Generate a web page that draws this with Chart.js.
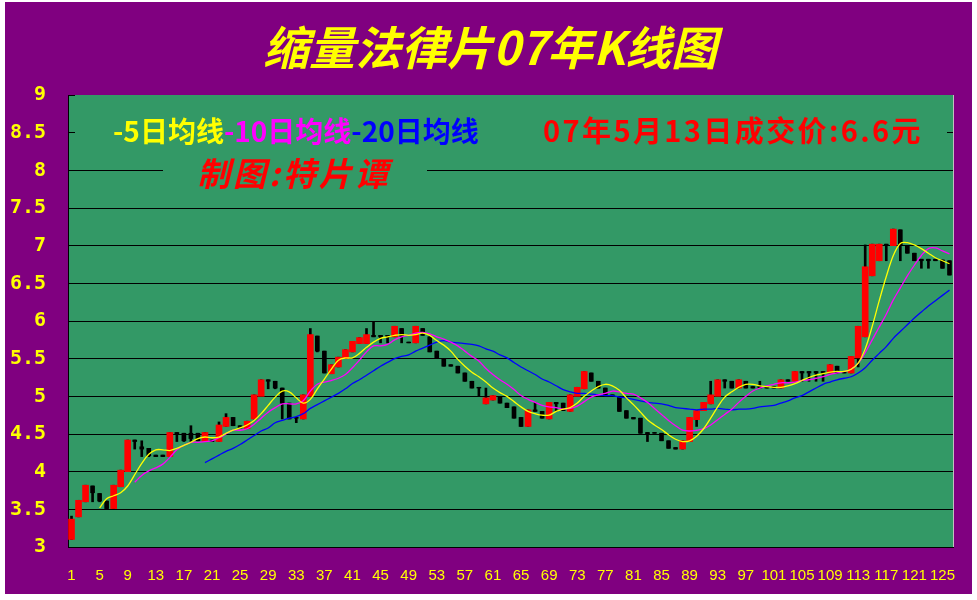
<!DOCTYPE html>
<html>
<head>
<meta charset="utf-8">
<script src="https://cdn.jsdelivr.net/npm/chart.js@4.4.1/dist/chart.umd.min.js"></script>
<style>
  html, body { margin: 0; padding: 0; background: #fff; }
  canvas { display: block; }
</style>
</head>
<body>
<canvas id="kChart" width="977" height="600"></canvas>
<script>
// daily K-line data (126 trading days)
const opens = [
  3.10,3.40,3.60,3.81,3.71,3.61,3.51,3.80,4.00,4.42,
  4.33,4.31,4.22,4.22,4.20,4.52,4.51,4.51,4.51,4.40,
  4.42,4.40,4.60,4.72,4.61,4.57,4.70,5.00,5.22,5.20,
  5.11,4.91,4.72,4.70,5.00,5.80,5.60,5.30,5.39,5.50,
  5.59,5.70,5.70,5.81,5.81,5.81,5.79,5.90,5.72,5.71,
  5.90,5.79,5.60,5.50,5.42,5.40,5.31,5.20,5.12,4.90,
  4.95,5.00,4.91,4.86,4.72,4.60,4.82,4.80,4.70,4.92,
  4.91,4.80,5.00,5.10,5.31,5.20,5.11,5.02,5.00,4.81,
  4.72,4.71,4.52,4.52,4.51,4.41,4.32,4.30,4.40,4.69,
  4.81,4.90,5.00,5.22,5.20,5.11,5.20,5.13,5.13,5.13,
  5.13,5.11,5.22,5.20,5.33,5.33,5.33,5.33,5.31,5.40,
  5.33,5.31,5.51,5.79,6.60,6.80,7.02,7.00,7.21,7.00,
  6.90,6.82,6.82,6.82,6.81,6.80
];
const highs = [
  3.41,3.62,3.82,3.81,3.71,3.61,3.82,4.02,4.42,4.42,
  4.41,4.31,4.22,4.22,4.52,4.52,4.51,4.61,4.51,4.52,
  4.42,4.66,4.77,4.72,4.61,4.67,5.02,5.22,5.22,5.20,
  5.11,4.91,4.72,5.02,5.90,5.80,5.60,5.42,5.52,5.62,
  5.73,5.78,5.90,5.99,5.81,5.81,5.93,5.90,5.72,5.93,
  5.90,5.79,5.60,5.50,5.42,5.40,5.31,5.20,5.12,5.11,
  5.01,5.00,4.91,4.86,4.72,4.82,4.92,4.80,4.92,4.92,
  4.91,5.02,5.12,5.33,5.31,5.20,5.11,5.02,5.00,4.81,
  4.72,4.71,4.52,4.52,4.51,4.41,4.32,4.41,4.72,4.81,
  4.92,5.20,5.22,5.22,5.20,5.22,5.20,5.13,5.20,5.13,
  5.13,5.22,5.22,5.33,5.33,5.33,5.33,5.33,5.42,5.40,
  5.33,5.53,5.93,7.01,7.02,7.02,7.02,7.22,7.21,7.00,
  6.90,6.82,6.82,6.82,6.81,6.80
];
const lows = [
  3.10,3.40,3.60,3.60,3.60,3.51,3.51,3.80,4.00,4.30,
  4.20,4.20,4.20,4.20,4.20,4.40,4.40,4.40,4.41,4.40,
  4.40,4.40,4.60,4.61,4.58,4.57,4.70,5.00,5.10,5.10,
  4.70,4.70,4.65,4.70,5.00,5.59,5.31,5.30,5.39,5.50,
  5.59,5.70,5.70,5.79,5.71,5.71,5.79,5.71,5.71,5.71,
  5.81,5.59,5.50,5.40,5.40,5.31,5.20,5.11,5.00,4.90,
  4.95,4.91,4.85,4.71,4.60,4.60,4.80,4.71,4.70,4.80,
  4.81,4.80,5.00,5.10,5.20,5.11,5.01,5.00,4.80,4.71,
  4.70,4.51,4.40,4.51,4.41,4.31,4.30,4.30,4.40,4.60,
  4.81,4.90,5.00,5.11,5.11,5.11,5.11,5.11,5.11,5.11,
  5.11,5.11,5.20,5.20,5.20,5.20,5.20,5.20,5.31,5.31,
  5.31,5.31,5.39,5.79,6.60,6.80,6.80,7.00,6.80,6.90,
  6.80,6.70,6.70,6.80,6.70,6.61
];
const closes = [
  3.37,3.62,3.82,3.72,3.61,3.51,3.82,4.02,4.42,4.40,
  4.30,4.21,4.20,4.20,4.52,4.50,4.41,4.44,4.41,4.52,
  4.40,4.62,4.72,4.61,4.58,4.67,5.02,5.22,5.20,5.11,
  4.91,4.70,4.71,5.02,5.82,5.60,5.31,5.42,5.52,5.62,
  5.73,5.78,5.82,5.79,5.79,5.79,5.93,5.80,5.71,5.93,
  5.81,5.59,5.50,5.40,5.40,5.31,5.20,5.11,5.11,4.98,
  5.01,4.91,4.85,4.71,4.60,4.82,4.80,4.71,4.92,4.90,
  4.81,5.02,5.12,5.33,5.20,5.11,5.01,5.00,4.80,4.71,
  4.70,4.51,4.50,4.51,4.41,4.31,4.30,4.41,4.72,4.81,
  4.92,5.02,5.22,5.20,5.11,5.22,5.11,5.11,5.11,5.11,
  5.11,5.22,5.20,5.33,5.31,5.31,5.31,5.31,5.42,5.31,
  5.31,5.53,5.93,6.72,7.02,7.02,7.00,7.22,7.00,6.90,
  6.80,6.80,6.80,6.80,6.70,6.61
];

// moving-average lines as drawn (5-day from day 5, 10-day from day 10, 20-day from day 20)
const ma5 = [
  3.52,3.64,3.68,3.72,3.81,3.96,4.11,4.23,4.29,4.29,
  4.28,4.31,4.35,4.39,4.44,4.46,4.45,4.46,4.51,4.55,
  4.58,4.62,4.68,4.77,4.88,4.99,5.07,5.06,4.98,4.91,
  4.96,5.10,5.23,5.36,5.48,5.51,5.51,5.57,5.65,5.72,
  5.77,5.79,5.81,5.82,5.81,5.82,5.84,5.81,5.74,5.68,
  5.60,5.49,5.40,5.32,5.26,5.19,5.11,5.05,5.00,4.93,
  4.86,4.80,4.77,4.75,4.75,4.80,4.83,4.85,4.91,5.00,
  5.07,5.13,5.16,5.14,5.08,4.98,4.89,4.79,4.69,4.62,
  4.56,4.49,4.43,4.40,4.41,4.47,4.57,4.71,4.86,4.99,
  5.06,5.12,5.16,5.16,5.14,5.13,5.12,5.12,5.14,5.17,
  5.21,5.25,5.28,5.30,5.32,5.33,5.33,5.36,5.44,5.63,
  5.93,6.27,6.59,6.87,7.03,7.04,7.01,6.96,6.90,6.84,
  6.80,6.76
];
const ma10 = [
  3.86,3.95,4.01,4.05,4.10,4.19,4.29,4.35,4.39,4.39,
  4.40,4.41,4.45,4.50,4.55,4.55,4.57,4.63,4.71,4.79,
  4.85,4.90,4.90,4.90,4.94,5.07,5.16,5.19,5.21,5.24,
  5.29,5.38,5.48,5.59,5.67,5.67,5.69,5.75,5.79,5.81,
  5.84,5.85,5.83,5.79,5.76,5.72,5.67,5.60,5.53,5.47,
  5.37,5.29,5.22,5.16,5.09,5.01,4.96,4.92,4.88,4.86,
  4.85,4.83,4.84,4.87,4.93,4.99,5.02,5.04,5.07,5.06,
  5.04,5.03,4.98,4.92,4.84,4.76,4.68,4.61,4.55,4.54,
  4.55,4.57,4.62,4.69,4.76,4.83,4.92,5.00,5.07,5.11,
  5.14,5.16,5.18,5.18,5.19,5.21,5.22,5.24,5.26,5.29,
  5.31,5.33,5.36,5.44,5.58,5.75,5.92,6.09,6.28,6.44,
  6.60,6.74,6.87,6.96,6.97,6.93,6.89
];
const ma20 = [
  4.12,4.17,4.22,4.27,4.31,4.36,4.42,4.48,4.54,4.58,
  4.65,4.68,4.71,4.73,4.77,4.84,4.89,4.94,4.99,5.04,
  5.10,5.17,5.22,5.28,5.34,5.40,5.45,5.50,5.53,5.55,
  5.60,5.64,5.68,5.72,5.74,5.72,5.71,5.70,5.69,5.67,
  5.63,5.60,5.55,5.51,5.45,5.39,5.34,5.29,5.23,5.19,
  5.14,5.09,5.06,5.04,5.04,5.03,5.02,5.01,5.01,4.99,
  4.98,4.96,4.94,4.92,4.91,4.90,4.88,4.85,4.84,4.83,
  4.82,4.83,4.83,4.84,4.83,4.82,4.83,4.83,4.84,4.86,
  4.87,4.88,4.91,4.94,4.98,5.01,5.06,5.11,5.16,5.19,
  5.22,5.24,5.26,5.31,5.38,5.48,5.57,5.66,5.77,5.86,
  5.95,6.04,6.12,6.20,6.27,6.34,6.41
];

const days = closes.map((c, i) => String(i + 1));
const lead = (n, arr) => Array(n).fill(null).concat(arr);

const upBodies = opens.map((o, i) => closes[i] > o ? [o, closes[i]] : null);
const downBodies = opens.map((o, i) => closes[i] > o ? null : [o, closes[i]]);
const wicks = lows.map((l, i) => [l, highs[i]]);

const CJK = '"Noto Sans CJK SC", "Noto Sans CJK JP", sans-serif';

const frame = {
  id: 'frame',
  beforeDraw(chart) {
    const { ctx, chartArea: a } = chart;
    ctx.save();
    ctx.fillStyle = '#ffffff';
    ctx.fillRect(0, 0, chart.width, chart.height);
    ctx.fillStyle = '#800080';
    ctx.fillRect(5, 2, 967, 592);
    ctx.fillStyle = '#339966';
    ctx.fillRect(a.left, a.top, a.right - a.left, a.bottom - a.top);

    // title
    ctx.fillStyle = '#ffff00';
    ctx.font = 'italic bold 46px ' + CJK;
    ctx.textAlign = 'center';
    ctx.textBaseline = 'middle';
    ctx.fillText('缩量法律片07年K线图', 490, 48);
    ctx.restore();
  },
  beforeDatasetsDraw(chart) {
    const { ctx, chartArea: a } = chart;
    ctx.save();
    // text boxes sit on top of the grid lines
    ctx.fillStyle = '#339966';
    ctx.fillRect(a.left + 7, 116, 872, 34);
    ctx.fillRect(163, 155, 264, 34);

    ctx.textBaseline = 'middle';
    ctx.textAlign = 'left';
    ctx.font = 'bold 28px ' + CJK;
    let x = 113;
    [['-5日均线', '#ffff00'], ['-10日均线', '#ff00ff'], ['-20日均线', '#0000ff']].forEach(([t, c]) => {
      ctx.fillStyle = c;
      ctx.fillText(t, x, 131);
      x += ctx.measureText(t).width;
    });

    ctx.fillStyle = '#ff0000';
    ctx.font = 'bold 29px ' + CJK;
    ctx.letterSpacing = '2.4px';
    ctx.fillText('07年5月13日成交价:6.6元', 543, 131);

    ctx.font = 'italic bold 33px ' + CJK;
    ctx.letterSpacing = '3px';
    ctx.fillText('制图:特片谭', 197, 173);
    ctx.letterSpacing = '0px';

    // small tick at the top value
    const y9 = chart.scales.y.getPixelForValue(9);
    ctx.strokeStyle = '#000';
    ctx.lineWidth = 1;
    ctx.beginPath();
    ctx.moveTo(a.left, Math.round(y9) + 0.5);
    ctx.lineTo(a.left + 7, Math.round(y9) + 0.5);
    ctx.stroke();
    ctx.restore();
  },
  afterDraw(chart) {
    const { ctx, chartArea: a } = chart;
    ctx.save();
    ctx.strokeStyle = '#c0c0c0';
    ctx.lineWidth = 1;
    ctx.beginPath();
    ctx.moveTo(Math.round(a.right) + 0.5, a.top);
    ctx.lineTo(Math.round(a.right) + 0.5, a.bottom);
    ctx.stroke();
    ctx.restore();
  }
};

new Chart(document.getElementById('kChart'), {
  type: 'bar',
  data: {
    labels: days,
    datasets: [
      { type: 'line', data: lead(4, ma5), borderColor: '#ffff00', borderWidth: 1.3, pointRadius: 0, tension: 0.35, order: 0 },
      { type: 'line', data: lead(9, ma10), borderColor: '#ff00ff', borderWidth: 1.3, pointRadius: 0, tension: 0.35, order: 0 },
      { type: 'line', data: lead(19, ma20), borderColor: '#0000ff', borderWidth: 1.3, pointRadius: 0, tension: 0.35, order: 0 },
      { data: upBodies, backgroundColor: '#ff0000', barThickness: 6, grouped: false, order: 2 },
      { data: downBodies, backgroundColor: '#000000', barThickness: 4, grouped: false, order: 2 },
      { data: wicks, backgroundColor: '#000000', barThickness: 2, grouped: false, order: 3 }
    ]
  },
  options: {
    responsive: false,
    animation: false,
    layout: { padding: { left: 0, right: 24, top: 95, bottom: 0 } },
    plugins: { legend: { display: false }, tooltip: { enabled: false } },
    scales: {
      x: {
        offset: true,
        grid: { display: false, drawTicks: false },
        border: { display: true, color: '#000000', width: 1 },
        ticks: {
          color: '#ffff00',
          autoSkip: false,
          maxRotation: 0,
          padding: 20,
          font: { family: '"Liberation Sans Narrow", "Liberation Sans", sans-serif', size: 15 },
          callback(v, i) { return i % 4 === 0 ? this.getLabelForValue(v) : ''; }
        },
        afterFit(s) { s.height = 53; }
      },
      y: {
        min: 3,
        max: 9,
        ticks: {
          stepSize: 0.5,
          color: '#ffff00',
          padding: 22,
          font: { family: '"DejaVu Sans Mono", monospace', size: 20, weight: 'bold' },
          callback: v => String(v)
        },
        grid: {
          color: c => (c.tick && c.tick.value === 9) ? 'rgba(0,0,0,0)' : '#000000',
          drawTicks: false,
          lineWidth: 1
        },
        border: { display: true, color: '#000000', width: 1 },
        afterFit(s) { s.width = 68; }
      }
    }
  },
  plugins: [frame]
});
</script>
</body>
</html>
